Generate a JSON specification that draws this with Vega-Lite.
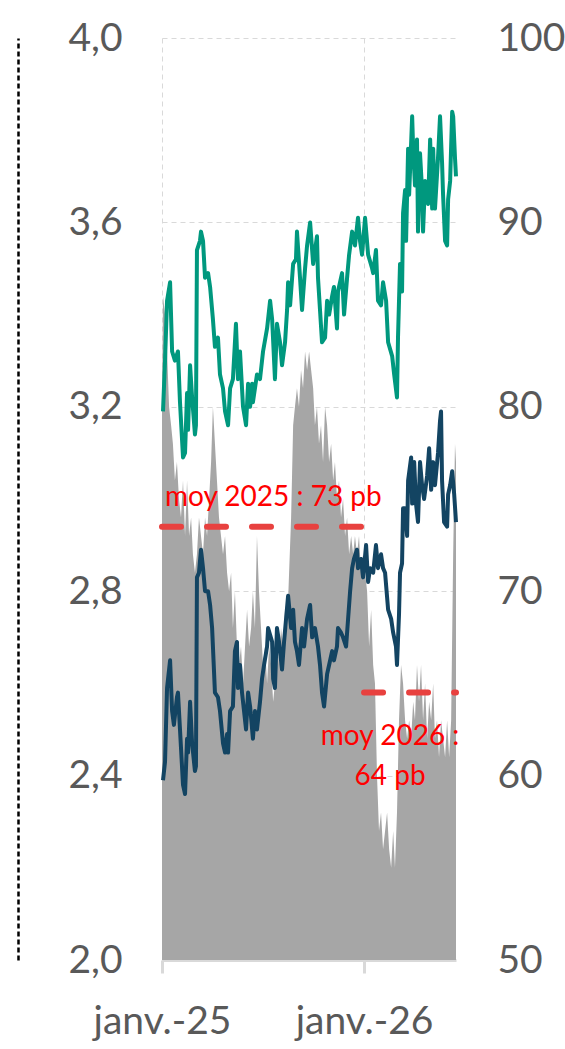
{
  "$schema": "https://vega.github.io/schema/vega-lite/v6.json",
  "autosize": {"type": "none"},
  "width": 294,
  "height": 922,
  "padding": {"left": 162, "top": 38, "right": 109, "bottom": 89},
  "background": "#FFFFFF",
  "config": {"view": {"stroke": null}, "font": "Lato"},
  "datasets": {
    "ecart": [
      {"t":2025.000,"pb":80},{"t":2025.005,"pb":86},{"t":2025.015,"pb":85},{"t":2025.025,"pb":83},{"t":2025.035,"pb":80},
      {"t":2025.045,"pb":79},{"t":2025.054,"pb":78},{"t":2025.064,"pb":76},{"t":2025.074,"pb":77},{"t":2025.084,"pb":75},
      {"t":2025.094,"pb":74},{"t":2025.104,"pb":76},{"t":2025.114,"pb":73},{"t":2025.124,"pb":76},{"t":2025.134,"pb":73},
      {"t":2025.144,"pb":74},{"t":2025.153,"pb":72},{"t":2025.163,"pb":71},{"t":2025.173,"pb":72},{"t":2025.183,"pb":74},
      {"t":2025.193,"pb":73},{"t":2025.203,"pb":72},{"t":2025.213,"pb":74},{"t":2025.223,"pb":73},{"t":2025.233,"pb":75},
      {"t":2025.243,"pb":77},{"t":2025.252,"pb":80},{"t":2025.262,"pb":78},{"t":2025.272,"pb":76},{"t":2025.282,"pb":74},
      {"t":2025.292,"pb":73},{"t":2025.302,"pb":72},{"t":2025.312,"pb":73},{"t":2025.322,"pb":71},{"t":2025.332,"pb":70},
      {"t":2025.342,"pb":71},{"t":2025.351,"pb":68},{"t":2025.361,"pb":70},{"t":2025.371,"pb":67},{"t":2025.381,"pb":66},
      {"t":2025.391,"pb":67},{"t":2025.401,"pb":65},{"t":2025.411,"pb":67},{"t":2025.421,"pb":69},{"t":2025.431,"pb":67},
      {"t":2025.441,"pb":68},{"t":2025.450,"pb":70},{"t":2025.460,"pb":68},{"t":2025.470,"pb":73},{"t":2025.480,"pb":70},
      {"t":2025.490,"pb":68},{"t":2025.500,"pb":66},{"t":2025.510,"pb":67},{"t":2025.520,"pb":65},{"t":2025.530,"pb":67},
      {"t":2025.540,"pb":66},{"t":2025.550,"pb":64},{"t":2025.559,"pb":65},{"t":2025.569,"pb":68},{"t":2025.579,"pb":66},
      {"t":2025.589,"pb":68},{"t":2025.599,"pb":67},{"t":2025.609,"pb":69},{"t":2025.619,"pb":68},{"t":2025.629,"pb":71},
      {"t":2025.639,"pb":74},{"t":2025.649,"pb":79},{"t":2025.658,"pb":80},{"t":2025.668,"pb":81},{"t":2025.678,"pb":80},
      {"t":2025.688,"pb":82},{"t":2025.698,"pb":81},{"t":2025.708,"pb":83},{"t":2025.718,"pb":82},{"t":2025.728,"pb":83},
      {"t":2025.738,"pb":82},{"t":2025.748,"pb":81},{"t":2025.757,"pb":79},{"t":2025.767,"pb":80},{"t":2025.777,"pb":78},
      {"t":2025.787,"pb":79},{"t":2025.797,"pb":77},{"t":2025.807,"pb":80},{"t":2025.817,"pb":79},{"t":2025.827,"pb":77},
      {"t":2025.837,"pb":78},{"t":2025.847,"pb":76},{"t":2025.856,"pb":77},{"t":2025.866,"pb":75},{"t":2025.876,"pb":76},
      {"t":2025.886,"pb":74},{"t":2025.896,"pb":75},{"t":2025.906,"pb":73},{"t":2025.916,"pb":74},{"t":2025.926,"pb":72},
      {"t":2025.936,"pb":73},{"t":2025.946,"pb":72},{"t":2025.955,"pb":73},{"t":2025.965,"pb":72},{"t":2025.975,"pb":73},
      {"t":2025.985,"pb":71},{"t":2025.995,"pb":72},{"t":2026.005,"pb":71},{"t":2026.015,"pb":70},{"t":2026.025,"pb":67},
      {"t":2026.035,"pb":69},{"t":2026.045,"pb":66},{"t":2026.054,"pb":65},{"t":2026.064,"pb":60},{"t":2026.074,"pb":57},
      {"t":2026.084,"pb":58},{"t":2026.094,"pb":56},{"t":2026.104,"pb":57},{"t":2026.114,"pb":58},{"t":2026.124,"pb":56},
      {"t":2026.134,"pb":55},{"t":2026.144,"pb":57},{"t":2026.153,"pb":55},{"t":2026.163,"pb":58},{"t":2026.173,"pb":63},
      {"t":2026.183,"pb":66},{"t":2026.193,"pb":65},{"t":2026.203,"pb":63},{"t":2026.213,"pb":62},{"t":2026.223,"pb":63},
      {"t":2026.233,"pb":62},{"t":2026.243,"pb":64},{"t":2026.252,"pb":63},{"t":2026.262,"pb":66},{"t":2026.272,"pb":64},
      {"t":2026.282,"pb":66},{"t":2026.292,"pb":63},{"t":2026.302,"pb":65},{"t":2026.312,"pb":62},{"t":2026.322,"pb":64},
      {"t":2026.332,"pb":63},{"t":2026.342,"pb":65},{"t":2026.351,"pb":62},{"t":2026.361,"pb":63},{"t":2026.371,"pb":61},
      {"t":2026.381,"pb":63},{"t":2026.391,"pb":62},{"t":2026.401,"pb":61},{"t":2026.411,"pb":63},{"t":2026.421,"pb":61},
      {"t":2026.431,"pb":63},{"t":2026.441,"pb":72},{"t":2026.450,"pb":78},{"t":2026.455,"pb":77}
    ],
    "vert": [
      {"t":2025.005,"v":3.19},{"t":2025.015,"v":3.30},{"t":2025.025,"v":3.43},{"t":2025.040,"v":3.47},{"t":2025.050,"v":3.32},
      {"t":2025.064,"v":3.30},{"t":2025.079,"v":3.32},{"t":2025.089,"v":3.21},{"t":2025.104,"v":3.09},{"t":2025.114,"v":3.10},
      {"t":2025.124,"v":3.23},{"t":2025.129,"v":3.15},{"t":2025.139,"v":3.29},{"t":2025.149,"v":3.22},{"t":2025.163,"v":3.14},
      {"t":2025.168,"v":3.16},{"t":2025.173,"v":3.54},{"t":2025.188,"v":3.56},{"t":2025.193,"v":3.58},{"t":2025.203,"v":3.56},
      {"t":2025.213,"v":3.48},{"t":2025.228,"v":3.49},{"t":2025.238,"v":3.46},{"t":2025.252,"v":3.39},{"t":2025.262,"v":3.33},
      {"t":2025.277,"v":3.35},{"t":2025.287,"v":3.27},{"t":2025.302,"v":3.24},{"t":2025.312,"v":3.19},{"t":2025.327,"v":3.16},
      {"t":2025.337,"v":3.24},{"t":2025.351,"v":3.26},{"t":2025.366,"v":3.38},{"t":2025.376,"v":3.26},{"t":2025.386,"v":3.32},
      {"t":2025.396,"v":3.24},{"t":2025.401,"v":3.20},{"t":2025.416,"v":3.16},{"t":2025.426,"v":3.25},{"t":2025.436,"v":3.20},
      {"t":2025.446,"v":3.25},{"t":2025.450,"v":3.21},{"t":2025.470,"v":3.27},{"t":2025.485,"v":3.26},{"t":2025.500,"v":3.32},
      {"t":2025.520,"v":3.37},{"t":2025.535,"v":3.43},{"t":2025.545,"v":3.39},{"t":2025.559,"v":3.26},{"t":2025.569,"v":3.38},
      {"t":2025.584,"v":3.34},{"t":2025.594,"v":3.29},{"t":2025.609,"v":3.34},{"t":2025.619,"v":3.41},{"t":2025.624,"v":3.47},
      {"t":2025.634,"v":3.42},{"t":2025.649,"v":3.51},{"t":2025.663,"v":3.52},{"t":2025.668,"v":3.58},{"t":2025.683,"v":3.48},
      {"t":2025.693,"v":3.41},{"t":2025.698,"v":3.44},{"t":2025.708,"v":3.50},{"t":2025.718,"v":3.55},{"t":2025.733,"v":3.60},
      {"t":2025.748,"v":3.51},{"t":2025.767,"v":3.57},{"t":2025.772,"v":3.48},{"t":2025.792,"v":3.34},{"t":2025.807,"v":3.35},
      {"t":2025.817,"v":3.43},{"t":2025.827,"v":3.40},{"t":2025.842,"v":3.44},{"t":2025.851,"v":3.46},{"t":2025.866,"v":3.37},
      {"t":2025.871,"v":3.45},{"t":2025.891,"v":3.49},{"t":2025.901,"v":3.40},{"t":2025.916,"v":3.48},{"t":2025.926,"v":3.53},
      {"t":2025.941,"v":3.58},{"t":2025.955,"v":3.55},{"t":2025.970,"v":3.61},{"t":2025.980,"v":3.56},{"t":2025.990,"v":3.53},
      {"t":2026.005,"v":3.61},{"t":2026.020,"v":3.53},{"t":2026.040,"v":3.50},{"t":2026.045,"v":3.49},{"t":2026.059,"v":3.54},
      {"t":2026.069,"v":3.43},{"t":2026.084,"v":3.42},{"t":2026.094,"v":3.47},{"t":2026.109,"v":3.43},{"t":2026.119,"v":3.34},
      {"t":2026.139,"v":3.31},{"t":2026.149,"v":3.27},{"t":2026.163,"v":3.22},{"t":2026.168,"v":3.35},{"t":2026.178,"v":3.51},
      {"t":2026.188,"v":3.45},{"t":2026.193,"v":3.62},{"t":2026.203,"v":3.67},{"t":2026.208,"v":3.56},{"t":2026.218,"v":3.76},
      {"t":2026.223,"v":3.66},{"t":2026.238,"v":3.83},{"t":2026.243,"v":3.76},{"t":2026.252,"v":3.68},{"t":2026.262,"v":3.78},
      {"t":2026.267,"v":3.58},{"t":2026.277,"v":3.75},{"t":2026.287,"v":3.67},{"t":2026.292,"v":3.58},{"t":2026.302,"v":3.69},
      {"t":2026.317,"v":3.64},{"t":2026.327,"v":3.78},{"t":2026.337,"v":3.63},{"t":2026.342,"v":3.76},{"t":2026.351,"v":3.63},
      {"t":2026.366,"v":3.74},{"t":2026.376,"v":3.83},{"t":2026.386,"v":3.73},{"t":2026.391,"v":3.66},{"t":2026.401,"v":3.56},
      {"t":2026.411,"v":3.55},{"t":2026.416,"v":3.65},{"t":2026.426,"v":3.69},{"t":2026.436,"v":3.84},{"t":2026.441,"v":3.83},
      {"t":2026.450,"v":3.74},{"t":2026.455,"v":3.70}
    ],
    "bleu": [
      {"t":2025.005,"v":2.39},{"t":2025.015,"v":2.43},{"t":2025.025,"v":2.59},{"t":2025.040,"v":2.65},{"t":2025.050,"v":2.54},
      {"t":2025.059,"v":2.51},{"t":2025.074,"v":2.57},{"t":2025.079,"v":2.58},{"t":2025.094,"v":2.46},{"t":2025.104,"v":2.38},
      {"t":2025.114,"v":2.36},{"t":2025.124,"v":2.48},{"t":2025.129,"v":2.45},{"t":2025.139,"v":2.56},{"t":2025.149,"v":2.47},
      {"t":2025.163,"v":2.41},{"t":2025.168,"v":2.42},{"t":2025.173,"v":2.83},{"t":2025.183,"v":2.84},{"t":2025.193,"v":2.89},
      {"t":2025.203,"v":2.85},{"t":2025.213,"v":2.80},{"t":2025.228,"v":2.80},{"t":2025.238,"v":2.77},{"t":2025.248,"v":2.72},
      {"t":2025.252,"v":2.68},{"t":2025.262,"v":2.58},{"t":2025.277,"v":2.57},{"t":2025.287,"v":2.54},{"t":2025.302,"v":2.47},
      {"t":2025.312,"v":2.45},{"t":2025.322,"v":2.49},{"t":2025.327,"v":2.45},{"t":2025.337,"v":2.54},{"t":2025.351,"v":2.55},
      {"t":2025.361,"v":2.67},{"t":2025.371,"v":2.69},{"t":2025.376,"v":2.59},{"t":2025.386,"v":2.64},{"t":2025.396,"v":2.58},
      {"t":2025.406,"v":2.54},{"t":2025.416,"v":2.50},{"t":2025.426,"v":2.58},{"t":2025.436,"v":2.55},{"t":2025.450,"v":2.48},
      {"t":2025.460,"v":2.54},{"t":2025.470,"v":2.50},{"t":2025.485,"v":2.56},{"t":2025.495,"v":2.61},{"t":2025.505,"v":2.64},
      {"t":2025.520,"v":2.68},{"t":2025.525,"v":2.72},{"t":2025.545,"v":2.69},{"t":2025.550,"v":2.61},{"t":2025.559,"v":2.59},
      {"t":2025.569,"v":2.72},{"t":2025.579,"v":2.69},{"t":2025.594,"v":2.63},{"t":2025.604,"v":2.69},{"t":2025.614,"v":2.74},
      {"t":2025.624,"v":2.79},{"t":2025.639,"v":2.72},{"t":2025.649,"v":2.76},{"t":2025.658,"v":2.69},{"t":2025.668,"v":2.67},
      {"t":2025.678,"v":2.64},{"t":2025.693,"v":2.72},{"t":2025.703,"v":2.68},{"t":2025.718,"v":2.74},{"t":2025.733,"v":2.77},
      {"t":2025.743,"v":2.70},{"t":2025.757,"v":2.72},{"t":2025.772,"v":2.68},{"t":2025.782,"v":2.64},{"t":2025.792,"v":2.58},
      {"t":2025.802,"v":2.55},{"t":2025.817,"v":2.62},{"t":2025.827,"v":2.64},{"t":2025.842,"v":2.67},{"t":2025.851,"v":2.65},
      {"t":2025.866,"v":2.68},{"t":2025.871,"v":2.72},{"t":2025.886,"v":2.71},{"t":2025.896,"v":2.70},{"t":2025.911,"v":2.68},
      {"t":2025.921,"v":2.74},{"t":2025.931,"v":2.80},{"t":2025.941,"v":2.85},{"t":2025.950,"v":2.87},{"t":2025.965,"v":2.89},
      {"t":2025.970,"v":2.85},{"t":2025.985,"v":2.87},{"t":2025.995,"v":2.83},{"t":2026.010,"v":2.90},{"t":2026.020,"v":2.82},
      {"t":2026.030,"v":2.85},{"t":2026.045,"v":2.84},{"t":2026.059,"v":2.90},{"t":2026.069,"v":2.85},{"t":2026.084,"v":2.88},
      {"t":2026.094,"v":2.85},{"t":2026.104,"v":2.84},{"t":2026.119,"v":2.76},{"t":2026.134,"v":2.74},{"t":2026.144,"v":2.71},
      {"t":2026.158,"v":2.68},{"t":2026.163,"v":2.64},{"t":2026.173,"v":2.75},{"t":2026.178,"v":2.84},{"t":2026.188,"v":2.86},
      {"t":2026.193,"v":2.98},{"t":2026.203,"v":2.98},{"t":2026.213,"v":2.92},{"t":2026.218,"v":3.04},{"t":2026.233,"v":3.09},
      {"t":2026.238,"v":2.99},{"t":2026.248,"v":3.08},{"t":2026.257,"v":2.99},{"t":2026.267,"v":2.95},{"t":2026.277,"v":3.08},
      {"t":2026.287,"v":3.03},{"t":2026.297,"v":3.00},{"t":2026.312,"v":3.05},{"t":2026.322,"v":3.11},{"t":2026.332,"v":3.02},
      {"t":2026.342,"v":3.08},{"t":2026.351,"v":3.03},{"t":2026.366,"v":3.10},{"t":2026.376,"v":3.17},{"t":2026.381,"v":3.19},
      {"t":2026.386,"v":3.04},{"t":2026.396,"v":2.95},{"t":2026.411,"v":2.94},{"t":2026.416,"v":3.01},{"t":2026.426,"v":3.03},
      {"t":2026.436,"v":3.06},{"t":2026.446,"v":3.01},{"t":2026.455,"v":2.95}
    ],
    "moyennes": [
      {"annee": 2025, "debut": 2025, "fin": 2026, "moyenne": 73.5, "label": "moy 2025 : 73 pb"},
      {"annee": 2026, "debut": 2026, "fin": 2026.455, "moyenne": 64.5, "label": "moy 2026 :\n64 pb"}
    ]
  },
  "layer": [
    {
      "layer": [
        {
          "data": {"name": "ecart"},
          "mark": {"type": "area", "color": "#A6A6A6", "opacity": 1},
          "encoding": {
            "x": {
              "field": "t", "type": "quantitative",
              "scale": {"domain": [2025, 2026.455], "nice": false, "zero": false},
              "axis": {
                "values": [2025, 2026],
                "labelExpr": "'janv.-' + (datum.value - 2000)",
                "labelFont": "Lato", "labelFontSize": 39, "labelColor": "#595959",
                "labelFlush": false, "labelOverlap": false,
                "domainColor": "#D9D9D9", "domainWidth": 3,
                "tickColor": "#D9D9D9", "tickWidth": 3, "tickSize": 13,
                "labelPadding": 29,
                "grid": true, "gridColor": "#D9D9D9", "gridDash": [5, 4], "gridWidth": 1,
                "title": null
              }
            },
            "y": {
              "field": "pb", "type": "quantitative",
              "scale": {"domain": [50, 100], "nice": false, "zero": false},
              "axis": {
                "orient": "right",
                "values": [50, 60, 70, 80, 90, 100],
                "format": "d",
                "labelFont": "Lato", "labelFontSize": 39, "labelColor": "#595959",
                "ticks": false, "domain": false, "grid": false,
                "labelPadding": 41,
                "title": null
              }
            },
            "y2": {"datum": 50}
          }
        },
        {
          "data": {"name": "moyennes"},
          "mark": {"type": "rule", "color": "#E8413F", "strokeWidth": 6, "strokeDash": [19, 26], "strokeCap": "round"},
          "encoding": {
            "x": {"field": "debut", "type": "quantitative"},
            "x2": {"field": "fin"},
            "y": {"field": "moyenne", "type": "quantitative"}
          }
        },
        {
          "data": {"name": "moyennes"},
          "transform": [{"filter": "datum.annee == 2025"}],
          "mark": {"type": "text", "color": "#FF0000", "font": "Lato", "fontSize": 28, "align": "left", "baseline": "alphabetic", "dx": 3, "dy": -21},
          "encoding": {
            "x": {"field": "debut", "type": "quantitative"},
            "y": {"field": "moyenne", "type": "quantitative"},
            "text": {"field": "label", "type": "nominal"}
          }
        },
        {
          "data": {"name": "moyennes"},
          "transform": [{"filter": "datum.annee == 2026"}],
          "mark": {"type": "text", "color": "#FF0000", "font": "Lato", "fontSize": 28, "align": "center", "baseline": "alphabetic", "lineBreak": "\n", "lineHeight": 40, "dx": 26, "dy": 52},
          "encoding": {
            "x": {"field": "debut", "type": "quantitative"},
            "y": {"field": "moyenne", "type": "quantitative"},
            "text": {"field": "label", "type": "nominal"}
          }
        }
      ]
    },
    {
      "layer": [
        {
          "data": {"name": "vert"},
          "mark": {"type": "line", "color": "#00987E", "strokeWidth": 4, "strokeJoin": "round"},
          "encoding": {
            "x": {"field": "t", "type": "quantitative"},
            "y": {
              "field": "v", "type": "quantitative",
              "scale": {"domain": [2, 4], "nice": false, "zero": false},
              "axis": {
                "orient": "left",
                "values": [2, 2.4, 2.8, 3.2, 3.6, 4],
                "labelExpr": "replace(format(datum.value, '.1f'), '.', ',')",
                "labelFont": "Lato", "labelFontSize": 39, "labelColor": "#595959",
                "ticks": false, "tickSize": 0,
                "labelPadding": -104,
                "offset": 144,
                "domain": true, "domainColor": "#000000", "domainDash": [5, 3], "domainWidth": 2.5,
                "grid": true, "gridColor": "#D9D9D9", "gridDash": [5, 4], "gridWidth": 1,
                "title": null
              }
            }
          }
        },
        {
          "data": {"name": "bleu"},
          "mark": {"type": "line", "color": "#134462", "strokeWidth": 4, "strokeJoin": "round"},
          "encoding": {
            "x": {"field": "t", "type": "quantitative"},
            "y": {"field": "v", "type": "quantitative"}
          }
        }
      ]
    }
  ],
  "resolve": {"scale": {"y": "independent"}}
}
